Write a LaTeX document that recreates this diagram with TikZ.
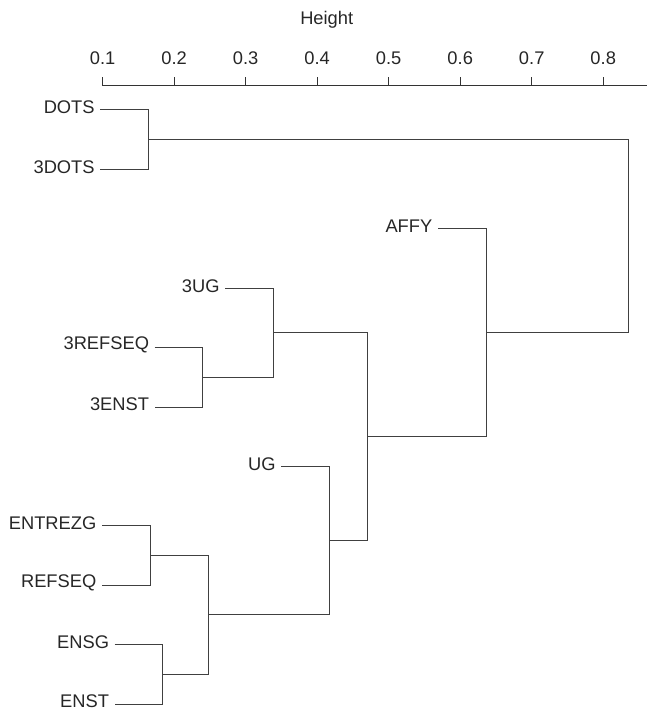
\documentclass[tikz,border=0pt]{standalone}
\usepackage{fontspec}
\setmainfont{Liberation Sans}
\begin{document}
\begin{tikzpicture}[x=1pt,y=-1pt,
  lab/.style={font=\fontsize{18.3}{21}\selectfont, text=black!85, inner sep=0pt, anchor=east},
  ticklab/.style={font=\fontsize{18.3}{21}\selectfont, text=black!85, inner sep=0pt},
  branch/.style={draw=black!75, line width=1pt},
  axisline/.style={draw=black!80, line width=1pt}]
\useasboundingbox (0,0) rectangle (647,711);
% axis
\node[ticklab] (htitle) at (326.7,20) {Height};
\coordinate (axL) at (102.7,86);
\coordinate (axR) at (647,86);
\draw[axisline] (axL) -- (axR);
\foreach \v [count=\i from 0] in {0.1,0.2,0.3,0.4,0.5,0.6,0.7,0.8}{
  \coordinate (t\i) at ({102.7+71.5*\i},86);
  \draw[axisline] (t\i) -- ++(0,-9);
  \node[ticklab] (tl\i) at ({102.7+71.5*\i},58) {\v};
}
% leaf start coordinates
\coordinate (lDOTS) at (100.3,110);
\coordinate (l3DOTS) at (100.3,169.4);
\coordinate (lAFFY) at (438,228.8);
\coordinate (l3UG) at (225.3,288.2);
\coordinate (l3REFSEQ) at (154.7,347.6);
\coordinate (l3ENST) at (154.7,407);
\coordinate (lUG) at (281.3,466.4);
\coordinate (lENTREZG) at (102,525.8);
\coordinate (lREFSEQ) at (102,585.2);
\coordinate (lENSG) at (114.7,644.6);
\coordinate (lENST) at (114.7,704);
% labels
\foreach \n in {DOTS,3DOTS,AFFY,3UG,3REFSEQ,3ENST,UG,ENTREZG,REFSEQ,ENSG,ENST}{
  \node[lab] (n\n) at ([xshift=-5.5pt,yshift=2.5pt]l\n) {\n};
}
% merge points
\coordinate (mA) at (148.3,139.7);
\coordinate (mB) at (202.7,377.3);
\coordinate (mC) at (273.3,332.75);
\coordinate (mD) at (150,555.5);
\coordinate (mE) at (162.7,674.3);
\coordinate (mF) at (208.3,614.9);
\coordinate (mG) at (329.3,540.65);
\coordinate (mH) at (367.7,436.7);
\coordinate (mI) at (486,332.75);
\coordinate (mJ) at (628.5,236.2);
% branches: each bracket as one path
\draw[branch] (lDOTS) -- (lDOTS -| mA) -- (l3DOTS -| mA) -- (l3DOTS);
\draw[branch] (l3REFSEQ) -- (l3REFSEQ -| mB) -- (l3ENST -| mB) -- (l3ENST);
\draw[branch] (l3UG) -- (l3UG -| mC) -- (mB -| mC) -- (mB);
\draw[branch] (lENTREZG) -- (lENTREZG -| mD) -- (lREFSEQ -| mD) -- (lREFSEQ);
\draw[branch] (lENSG) -- (lENSG -| mE) -- (lENST -| mE) -- (lENST);
\draw[branch] (mD) -- (mD -| mF) -- (mE -| mF) -- (mE);
\draw[branch] (lUG) -- (lUG -| mG) -- (mF -| mG) -- (mF);
\draw[branch] (mC) -- (mC -| mH) -- (mG -| mH) -- (mG);
\draw[branch] (lAFFY) -- (lAFFY -| mI) -- (mH -| mI) -- (mH);
\draw[branch] (mA) -- (mA -| mJ) -- (mI -| mJ) -- (mI);
\end{tikzpicture}
\end{document}
